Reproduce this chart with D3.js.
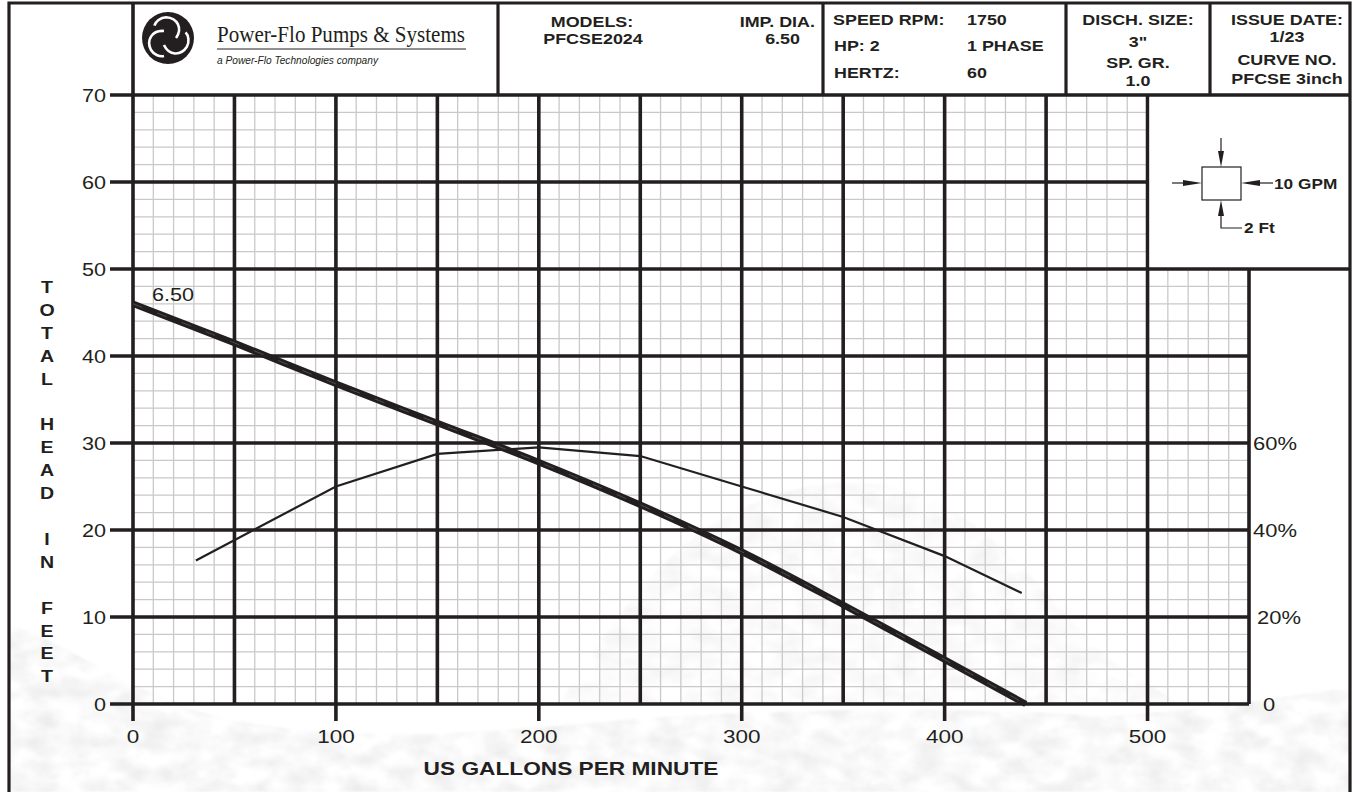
<!DOCTYPE html>
<html>
<head>
<meta charset="utf-8">
<script src="https://cdn.jsdelivr.net/npm/d3@7"></script>
<style>
  body { margin: 0; background: #fff; }
  svg { display: block; }
</style>
</head>
<body>
<div id="chart"></div>
<script>
// pump curve data
var gpmHead = [0, 50, 100, 150, 200, 250, 300, 350, 400, 440];
var headFt = [46, 41.5, 36.8, 32.3, 27.8, 22.9, 17.5, 11.4, 5.1, 0];
var gpmEff = [31, 100, 150, 200, 250, 300, 350, 400, 438];
var effPct = [33, 50, 57.5, 59, 57, 50, 43, 34, 25.5];

var xTicks = [0, 100, 200, 300, 400, 500];
var yTicks = [0, 10, 20, 30, 40, 50, 60, 70];
var effTicks = [0, 20, 40, 60];
var effLabels = ['0', '20%', '40%', '60%'];
var yTitle = 'TOTAL HEAD IN FEET';
var xTitle = 'US GALLONS PER MINUTE';
var curveLabel = '6.50';

var W = 1358, H = 792;
var svg = d3.select('#chart').append('svg').attr('width', W).attr('height', H);

var x = d3.scaleLinear().domain([0, 550]).range([133, 1249]);
var y = d3.scaleLinear().domain([0, 70]).range([704, 95]);
var yEff = d3.scaleLinear().domain([0, 140]).range([704, 95]);

var ink = '#231f20';
var minor = '#c9c9c9';

function label(g, px, py, s, o) {
    o = o || {};
    return g.append('text')
        .attr('transform', 'translate(' + px + ',' + py + ') scale(' + (o.sx || 1.2) + ',1)')
        .attr('text-anchor', o.anchor || 'start')
        .attr('fill', ink)
        .style('font-family', o.family || '"Liberation Sans", Arial, sans-serif')
        .style('font-size', (o.size || 18) + 'px')
        .style('font-weight', o.bold ? 'bold' : 'normal')
        .style('font-style', o.italic ? 'italic' : 'normal')
        .text(s);
}

// faded rock watermark
var defs = svg.append('defs');
var f = defs.append('filter').attr('id', 'rock').attr('x', 0).attr('y', 0).attr('width', 1).attr('height', 1);
f.append('feTurbulence').attr('type', 'fractalNoise').attr('baseFrequency', '0.035 0.06').attr('numOctaves', 4).attr('seed', 3).attr('result', 'n');
f.append('feColorMatrix').attr('in', 'n').attr('type', 'matrix')
    .attr('values', '0 0 0 0 0.45  0 0 0 0 0.45  0 0 0 0 0.45  1.8 0 0 0 -0.55').attr('result', 'c');
f.append('feComposite').attr('in', 'c').attr('in2', 'SourceAlpha').attr('operator', 'in').attr('result', 't');
f.append('feGaussianBlur').attr('in', 't').attr('stdDeviation', 0.8);

svg.append('path').attr('filter', 'url(#rock)').attr('fill', '#000').attr('opacity', 0.14)
    .attr('d', 'M560,704 C600,640 650,560 720,520 C780,485 850,470 920,495 C990,520 1050,600 1110,660 L1180,704 Z');
svg.append('path').attr('filter', 'url(#rock)').attr('fill', '#000').attr('opacity', 0.24)
    .attr('d', 'M10,625 C60,640 110,680 200,712 C320,745 460,735 600,722 C760,708 950,706 1100,716 C1200,712 1290,695 1350,688 L1350,792 L10,792 Z');

// minor grid
var g = svg.append('g');
var minorX = d3.range(0, 551, 10).filter(function(d) { return d % 50; });
var minorY = d3.range(0, 71, 2).filter(function(d) { return d % 10; });

g.selectAll('line.mx').data(minorX).enter().append('line')
    .attr('class', 'mx')
    .attr('x1', function(d) { return x(d); }).attr('x2', function(d) { return x(d); })
    .attr('y1', y(0)).attr('y2', function(d) { return d > 500 ? y(50) : y(70); })
    .attr('stroke', minor).attr('stroke-width', 1.3);

g.selectAll('line.my').data(minorY).enter().append('line')
    .attr('class', 'my')
    .attr('y1', function(d) { return y(d); }).attr('y2', function(d) { return y(d); })
    .attr('x1', x(0)).attr('x2', function(d) { return d > 50 ? x(500) : x(550); })
    .attr('stroke', minor).attr('stroke-width', 1.3);

// major grid
var majorX = d3.range(0, 551, 50);
g.selectAll('line.Mx').data(majorX).enter().append('line')
    .attr('class', 'Mx')
    .attr('x1', function(d) { return x(d); }).attr('x2', function(d) { return x(d); })
    .attr('y1', function(d) { return d % 100 === 0 && d <= 500 ? y(0) + 17 : y(0); })
    .attr('y2', function(d) { return d === 0 ? 3 : (d > 500 ? y(50) : y(70)); })
    .attr('stroke', ink).attr('stroke-width', 3.6);

g.selectAll('line.My').data(yTicks).enter().append('line')
    .attr('class', 'My')
    .attr('y1', function(d) { return y(d); }).attr('y2', function(d) { return y(d); })
    .attr('x1', x(0) - 23)
    .attr('x2', function(d) { return d === 50 || d === 70 ? 1350 : (d > 50 ? x(500) : x(550)); })
    .attr('stroke', ink).attr('stroke-width', 3.6);

// frame and header boxes
var frame = svg.append('g').attr('stroke', ink).attr('stroke-width', 3.2).attr('fill', 'none');
frame.append('path').attr('d', 'M9,792 L9,3 L1350,3 L1350,792');
[498, 823, 1066, 1210].forEach(function(px) {
    frame.append('line').attr('x1', px).attr('x2', px).attr('y1', 3).attr('y2', y(70));
});

// axis labels
yTicks.forEach(function(d) { label(svg, 106, y(d) + 7, String(d), {anchor: 'end', sx: 1.2}); });
xTicks.forEach(function(d) { label(svg, x(d), 743, String(d), {anchor: 'middle', sx: 1.25}); });
effTicks.forEach(function(d, i) { label(svg, 1253 + (i === 1 ? 4 : 0) + (i === 0 ? 10 : 0), yEff(d) + 7, effLabels[i], {sx: 1.22}); });

yTitle.split('').forEach(function(c, i) {
    if (c !== ' ') label(svg, 47, 293 + i * 22.9, c, {anchor: 'middle', bold: true, size: 17, sx: 1.15});
});
label(svg, 571, 775, xTitle, {anchor: 'middle', bold: true, size: 18, sx: 1.26});

// curves
var headLine = d3.line().x(function(d) { return x(d[0]); }).y(function(d) { return y(d[1]); }).curve(d3.curveMonotoneX);
var effLine = d3.line().x(function(d) { return x(d[0]); }).y(function(d) { return yEff(d[1]); });

var headData = d3.zip(gpmHead, headFt);
var effData = d3.zip(gpmEff, effPct);

svg.append('path').datum(effData).attr('d', effLine)
    .attr('fill', 'none').attr('stroke', ink).attr('stroke-width', 2.2);
svg.append('path').datum(headData).attr('d', headLine)
    .attr('fill', 'none').attr('stroke', ink).attr('stroke-width', 6.5);
svg.append('path').datum(headData).attr('d', headLine)
    .attr('fill', 'none').attr('stroke', '#777').attr('stroke-width', 0.5).attr('stroke-dasharray', '10 16');
label(svg, 152, 301, curveLabel, {sx: 1.2});

// header texts
var hb = {bold: true, size: 14, sx: 1.28};
label(svg, 592, 27, 'MODELS:', Object.assign({anchor: 'middle'}, hb));
label(svg, 593, 44, 'PFCSE2024', Object.assign({anchor: 'middle'}, hb));
label(svg, 815, 27, 'IMP. DIA.', Object.assign({anchor: 'end'}, hb));
label(svg, 800, 44, '6.50', Object.assign({anchor: 'end'}, hb));
label(svg, 833, 25, 'SPEED RPM:', hb);
label(svg, 834, 51, 'HP: 2', hb);
label(svg, 834, 78, 'HERTZ:', hb);
label(svg, 967, 25, '1750', hb);
label(svg, 967, 51, '1 PHASE', hb);
label(svg, 967, 78, '60', hb);
label(svg, 1138, 25, 'DISCH. SIZE:', Object.assign({anchor: 'middle'}, hb));
label(svg, 1138, 47, '3"', Object.assign({anchor: 'middle'}, hb));
label(svg, 1138, 68, 'SP. GR.', Object.assign({anchor: 'middle'}, hb));
label(svg, 1138, 86, '1.0', Object.assign({anchor: 'middle'}, hb));
label(svg, 1287, 25, 'ISSUE DATE:', Object.assign({anchor: 'middle'}, hb));
label(svg, 1287, 42, '1/23', Object.assign({anchor: 'middle'}, hb));
label(svg, 1287, 65, 'CURVE NO.', Object.assign({anchor: 'middle'}, hb));
label(svg, 1287, 84, 'PFCSE 3inch', Object.assign({anchor: 'middle'}, hb));

// logo
var logo = svg.append('g').attr('transform', 'translate(168,38)');
logo.append('circle').attr('r', 26).attr('fill', ink);
[0, 120, 240].forEach(function(a) {
    logo.append('path')
        .attr('transform', 'rotate(' + a + ')')
        .attr('d', 'M-4,-7 C-16,-8 -22,2 -17,12 C-14,17 -8,19 -4,18')
        .attr('fill', 'none').attr('stroke', '#fff').attr('stroke-width', 2.6);
});
svg.append('text').attr('x', 217).attr('y', 42)
    .attr('textLength', 248).attr('lengthAdjust', 'spacingAndGlyphs')
    .attr('fill', ink)
    .style('font-family', '"Liberation Serif", "DejaVu Serif", serif').style('font-size', '23px')
    .text('Power-Flo Pumps & Systems');
svg.append('line').attr('x1', 217).attr('x2', 466).attr('y1', 49).attr('y2', 49).attr('stroke', ink).attr('stroke-width', 1);
svg.append('text').attr('x', 217).attr('y', 64)
    .attr('textLength', 161).attr('lengthAdjust', 'spacingAndGlyphs')
    .attr('fill', ink)
    .style('font-family', '"Liberation Sans", Arial, sans-serif').style('font-size', '10px').style('font-style', 'italic')
    .text('a Power-Flo Technologies company');

// scale box, top right
var box = svg.append('g');
box.append('rect').attr('x', x(500) + 2).attr('y', y(70) + 2).attr('width', 1350 - x(500) - 4).attr('height', y(50) - y(70) - 4).attr('fill', '#fff');
box.append('rect').attr('x', 1202).attr('y', 167).attr('width', 39).attr('height', 33)
    .attr('fill', '#fff').attr('stroke', ink).attr('stroke-width', 1.2);
var arrows = box.append('g').attr('stroke', ink).attr('stroke-width', 1.2).attr('fill', 'none');
arrows.append('path').attr('d', 'M1221,138 L1221,160');
arrows.append('path').attr('d', 'M1172,183 L1190,183');
arrows.append('path').attr('d', 'M1273,183 L1255,183');
arrows.append('path').attr('d', 'M1242,228 L1221,228 L1221,210');
var heads = box.append('g').attr('fill', ink);
heads.append('path').attr('d', 'M1221,167 L1218,151 L1224,151 Z');
heads.append('path').attr('d', 'M1202,183 L1183,180 L1183,186 Z');
heads.append('path').attr('d', 'M1241,183 L1260,180 L1260,186 Z');
heads.append('path').attr('d', 'M1221,200 L1218,216 L1224,216 Z');
label(box, 1274, 189, '10 GPM', {bold: true, size: 15, sx: 1.15});
label(box, 1244, 233, '2 Ft', {bold: true, size: 15, sx: 1.15});
</script>
</body>
</html>
